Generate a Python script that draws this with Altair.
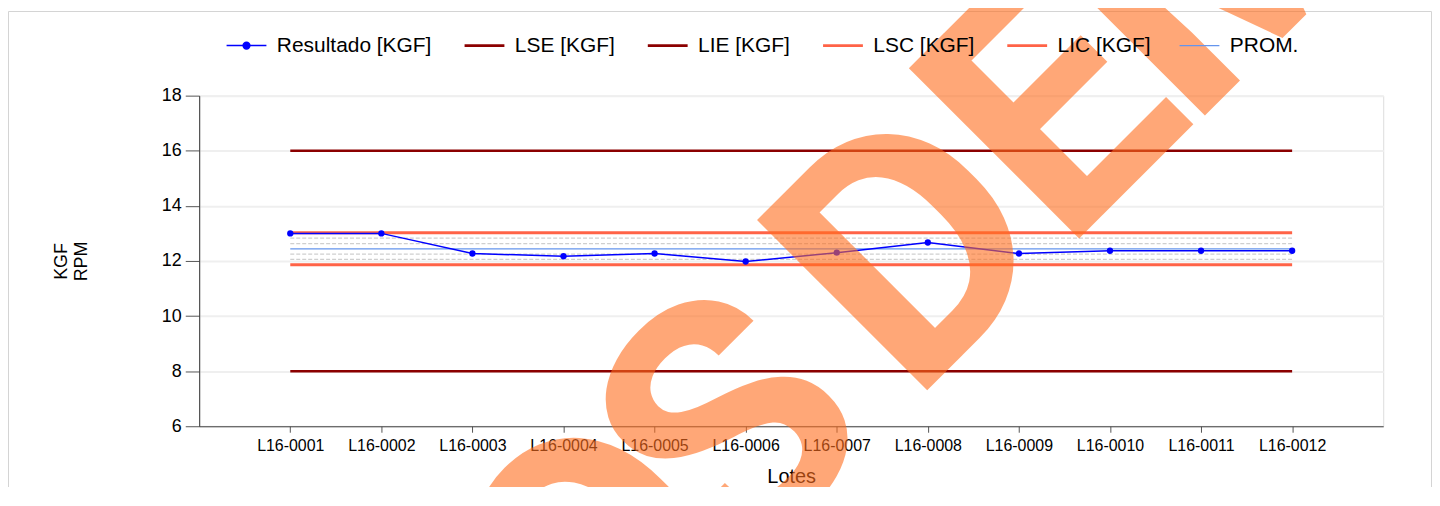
import altair as alt
import pandas as pd

# ---- data ----
lotes = ["L16-0001", "L16-0002", "L16-0003", "L16-0004", "L16-0005", "L16-0006",
         "L16-0007", "L16-0008", "L16-0009", "L16-0010", "L16-0011", "L16-0012"]
resultado = [13.0, 13.0, 12.27, 12.17, 12.27, 11.98, 12.3, 12.67, 12.27, 12.37, 12.37, 12.37]
lse_val = 16.0
lie_val = 8.0
lsc_val = 13.02
lic_val = 11.86
prom_val = 12.44
zonas = [12.83, 12.63, 12.25, 12.06]

series_names = ["Resultado [KGF]", "LSE [KGF]", "LIE [KGF]", "LSC [KGF]", "LIC [KGF]", "PROM."]
series_colors = ["#0000FF", "#8B0000", "#8B0000", "#FF6347", "#FF6347", "#6495ED"]

# watermark letters (decoration, pixel anchors relative to plot origin)
wm_letters = ["O", "S", "D", "E", "M"]
wm_px = [480, 612, 794, 936, 1100]
wm_py = [547, 412, 233, 91, -70]

FONT = "Liberation Sans"

# ---- tables ----
rows = []
for i, lot in enumerate(lotes):
    rows.append({"lote": lot, "serie": "Resultado [KGF]", "valor": resultado[i]})
    rows.append({"lote": lot, "serie": "LSE [KGF]", "valor": lse_val})
    rows.append({"lote": lot, "serie": "LIE [KGF]", "valor": lie_val})
    rows.append({"lote": lot, "serie": "LSC [KGF]", "valor": lsc_val})
    rows.append({"lote": lot, "serie": "LIC [KGF]", "valor": lic_val})
    rows.append({"lote": lot, "serie": "PROM.", "valor": prom_val})
df = pd.DataFrame(rows)

zrows = []
for k, z in enumerate(zonas):
    for lot in lotes:
        zrows.append({"lote": lot, "zona": k, "valor": z})
dz = pd.DataFrame(zrows)

x_enc = alt.X("lote:N", sort=lotes,
              scale=alt.Scale(type="point", padding=1),
              axis=alt.Axis(title="Lotes", labelAngle=0, labelFontSize=16, labelFont=FONT,
                            labelColor="#000000", tickSize=6, tickColor="#555555",
                            domainColor="#444444", titleFontSize=20, titleFont=FONT,
                            titleFontWeight="normal", titleColor="#000000",
                            labelPadding=5, titlePadding=13, grid=False))
y_enc = alt.Y("valor:Q",
              scale=alt.Scale(domain=[6, 18], nice=False, zero=False),
              axis=alt.Axis(title=["KGF", "RPM"], values=[6, 8, 10, 12, 14, 16, 18],
                            labelFontSize=18, labelFont=FONT, labelColor="#000000",
                            tickSize=14, tickColor="#555555", domainColor="#333333",
                            gridColor="#efefef", gridWidth=2, labelPadding=4,
                            titleFontSize=18, titleFont=FONT, titleFontWeight="normal",
                            titleColor="#000000", titleAngle=270, titleX=-138, titleY=166,
                            titleAlign="center", titleBaseline="middle"))

sym_path = "M-1,0L1,0M-0.17,0A0.17,0.17,0,1,0,0.17,0A0.17,0.17,0,1,0,-0.17,0Z"
is_res = "datum.value === 'Resultado [KGF]'"
legend = alt.Legend(
    title=None, orient="none", direction="horizontal", legendX=37, legendY=-61,
    symbolType={"expr": f"{is_res} ? '{sym_path}' : 'stroke'"},
    symbolFillColor={"expr": f"{is_res} ? '#0000FF' : 'transparent'"},
    symbolStrokeWidth={"expr": f"datum.value === 'PROM.' ? 1.2 : ({is_res} ? 1.5 : 2.8)"},
    symbolSize=1600,
    labelFontSize=21, labelFont=FONT, labelColor="#000000", labelOffset=20,
    columnPadding=26, padding=0)
color_enc = alt.Color("serie:N", scale=alt.Scale(domain=series_names, range=series_colors),
                      legend=legend)

base = alt.Chart(df)

zone_layer = alt.Chart(dz).mark_line(color="#cfcfcf", strokeWidth=1.3, strokeDash=[4, 2]).encode(
    x=x_enc, y=y_enc, detail="zona:N")

spec_layer = base.transform_filter(
    alt.FieldOneOfPredicate(field="serie", oneOf=["LSE [KGF]", "LIE [KGF]"])
).mark_line(strokeWidth=2.5).encode(x=x_enc, y=y_enc, color=color_enc)

ctrl_layer = base.transform_filter(
    alt.FieldOneOfPredicate(field="serie", oneOf=["LSC [KGF]", "LIC [KGF]"])
).mark_line(strokeWidth=3).encode(x=x_enc, y=y_enc, color=color_enc)

prom_layer = base.transform_filter(
    alt.FieldEqualPredicate(field="serie", equal="PROM.")
).mark_line(strokeWidth=1.2).encode(x=x_enc, y=y_enc, color=color_enc)

res_line = base.transform_filter(
    alt.FieldEqualPredicate(field="serie", equal="Resultado [KGF]")
).mark_line(strokeWidth=1.5).encode(x=x_enc, y=y_enc, color=color_enc)

res_pts = base.transform_filter(
    alt.FieldEqualPredicate(field="serie", equal="Resultado [KGF]")
).mark_circle(size=40, color="#0000FF", opacity=1).encode(x=x_enc, y=y_enc)

# decorative frame and watermark
frame = alt.Chart(pd.DataFrame({"f": [0]})).mark_rect(
    fill="transparent", stroke="#d4d4d4", strokeWidth=1
).encode(x=alt.value(-191.5), x2=alt.value(1237.5), y=alt.value(-84.5), y2=alt.value(500))

wm_layers = []
for letter, px, py in zip(wm_letters, wm_px, wm_py):
    wm_layers.append(
        alt.Chart(pd.DataFrame({"t": [letter]})).mark_text(
            angle=315, fontSize=340, font="Roboto", fontWeight="bold", color="#FF6E1E",
            opacity=0.6, align="center", baseline="alphabetic"
        ).encode(text="t:N", x=alt.value(px), y=alt.value(py))
    )

chart = alt.layer(frame, zone_layer, spec_layer, ctrl_layer, prom_layer, res_line, res_pts,
                  *wm_layers).properties(
    width=1189, height=332,
    autosize=alt.AutoSizeParams(type="none"),
    padding={"left": 192, "top": 87, "right": 49, "bottom": 60},
).configure_view(stroke=None).configure(background="white")

chart.save("out.html", embed_options={"renderer": "svg", "actions": False})
